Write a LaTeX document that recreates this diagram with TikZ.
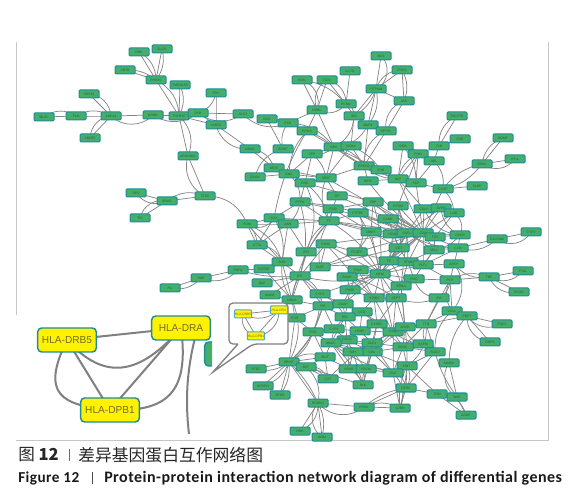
\documentclass[tikz,border=0pt]{standalone}
\usepackage{fontspec}
\setmainfont{Liberation Sans}
\newfontfamily\cjk{Noto Sans CJK SC}
\newfontfamily\capfont[LetterSpace=3]{Carlito}
\definecolor{gfill}{HTML}{45AE6B}
\definecolor{gbord}{HTML}{1F8C9A}
\definecolor{edgec}{HTML}{858585}
\definecolor{ytxt}{HTML}{6E6E20}
\tikzset{
 gene/.style={draw=gbord,fill=gfill,line width=0.75pt,rounded corners=0.8pt,minimum width=15pt,minimum height=6pt,inner sep=0pt,text=black!45!gfill,font=\fontsize{2.5}{3}\selectfont},
 ysmall/.style={gene,fill=yellow,draw=cyan!60!gray,text=ytxt,minimum width=13pt},
 bigy/.style={draw=gbord,fill=yellow,line width=1.1pt,rounded corners=3pt,minimum width=44pt,minimum height=18pt,inner sep=0pt,text=ytxt,font=\fontsize{7.6}{9}\selectfont},
 edgel/.style={draw=edgec,line width=0.55pt},
 bigedge/.style={draw=black!50,line width=1.5pt},
 framel/.style={draw=black!22,line width=0.6pt},
}
\def\genelist{MLKL/44/117,PLN/76/116,ABCA1/111/116,SDS12/89/94,ABCB5/90/138,GRIN1/153/115,TNFRSF/179/116,TMEM158/180/85,DVB/198/113,FRY/216/93,YARS2/216/125,SLC2/243/114,GCK/267/119,PCK/288/123,BDNF/283/149,NBAS/250/149,MEIS/274/168,ARHGDIG/188/156,PPARG/156/80,ZBTB/125/70,DBH/139/52,SLCO/162/49,WLS/381/56,PDCD/402/70,KCTD/350/71,KGN/302/80,RCS/327/80,PITPNM/376/89,JAG/404/101,PCNO/346/104,NOBL/317/110,INO/354/116,MAP4/368/125,DPYSL/386/131,KRGS/307/131,GRK/334/147,NCBA/351/146,GOA/403/146,TXN/439/146,CSB/460/139,TACSTD/457/116,BOMP/503/138,IPHL/515/159,SBNS/482/164,PRO/418/154,ARL/434/161,PRKCD/364/166,EXB/381/170,ZFP/312/154,GNA/289/174,SRSF/326/178,NAT/398/179,MYO/368/181,SCP/416/183,RPS/136/193,BRAS/167/201,TPI/140/218,TCEA/205/196,DAGK/255/177,DSC/305/183,ZIP/337/196,PTPN/300/202,ITGB/333/209,POM/247/224,SOX/274/218,AKR/288/224,TF/329/221,CTTA/257/245,RHAV/326/244,JPH/306/252,SOD/282/262,FASF/320/267,POTEE/264/269,ENFA/238/270,YME/201/278,PIL/170/288,EIF/300/276,BAZ/262/283,MAGE/270/295,NRAS/292/300,CYP1/320/294,PIE/323/306,GSAP/343/304,CASP/443/189,SLBP/477/186,ZBP/373/202,CFOM/398/206,COLP/424/209,AVPR/441/208,LOB/454/213,PTPRC/358/213,CAMK/388/219,DMBT/371/232,HCAK/393/234,CXCL/407/233,CD2/423/233,TLR/435/237,CXCR/460/235,GLUTAM/497/239,CYP2/531/232,CD7/399/248,SELL/434/250,CCR/458/248,FCGFP/357/252,FC/389/261,STAB/408/262,PLTL/423/265,ARCP/454/264,PGA/358/270,SNAP/347/277,MCM/380/274,PIKD/414/279,PCP/450/280,TNF/489/277,PSG/523/271,RCSD/519/292,SEMA/401/286,PKEP/350/290,STMN/374/298,SEPT/396/298,ID3/439/298,STAT/295/318,LCG/362/312,RPL/345/317,CYP3/334/329,PHD/313/332,LRMP/360/331,CYHEC/377/324,COQ/393/332,ARCK/405/327,TTN/426/324,VGLL/452/311,PBPT/467/316,FNCS/502/324,RDFS/490/342,BAFM/423/344,SCGV/435/352,BRAC/403/347,SLC1/372/343,COLQ/347/340,MAAC/331/343,COL/372/352,SMY/353/352,WUT/325/357,BRINT/289/362,BST/306/367,PTRZ/256/369,NPAR/349/369,PRCM/366/369,EMT/407/366,MARN/449/363,DOJ/393/373,CST/328/379,BCRPO/263/386,SPOS/280/395,BLK/363/385,DERK/406/388,TOM/437/394,WAP/457/397,RCRKO/318/403,PRRX/364/407,GJBR/400/408,ARDP/466/415,RDH/300/431,SOM/322/437}
\begin{document}
\begin{tikzpicture}[x=0.75pt,y=-0.75pt]
\useasboundingbox (0,0) rectangle (575,495);
\draw[framel] (16,315) -- (16,42);
\draw[framel] (16,440) -- (548,440) -- (548,42);
\foreach \n/\x/\y in \genelist { \coordinate (p\n) at (\x,\y); }
\foreach \a/\b/\c in {
PLN/MLKL/0,PLN/MLKL/-35,ABCA1/PLN/0,ABCA1/PLN/-30,SDS12/ABCA1/0,SDS12/ABCA1/40,ABCB5/ABCA1/0,ABCB5/ABCA1/40,ABCA1/GRIN1/0,ABCA1/GRIN1/-45,
GRIN1/TNFRSF/0,GRIN1/DVB/-35,TNFRSF/TMEM158/0,TMEM158/TNFRSF/25,PPARG/TNFRSF/0,PPARG/TNFRSF/30,DBH/PPARG/0,DBH/PPARG/30,SLCO/PPARG/0,SLCO/PPARG/25,ZBTB/PPARG/0,ZBTB/PPARG/20,
TNFRSF/DVB/0,TNFRSF/ARHGDIG/0,TNFRSF/ARHGDIG/35,TNFRSF/YARS2/0,DVB/SLC2/0,DVB/SLC2/-35,FRY/DVB/30,FRY/YARS2/0,DVB/YARS2/0,YARS2/NBAS/0,YARS2/NBAS/-40,NBAS/MEIS/0,NBAS/MEIS/35,
SLC2/PCK/-35,GCK/BDNF/0,PCK/BDNF/-25,GCK/PCK/0,ARHGDIG/TCEA/0,ARHGDIG/TCEA/-40,
TCEA/BRAS/0,TCEA/BRAS/-30,BRAS/RPS/0,BRAS/RPS/40,BRAS/TPI/0,BRAS/TPI/-45,TCEA/POM/35,POM/SOX/0,POM/SOX/-50,POM/AKR/0,POM/CTTA/0,POM/CTTA/25,POM/SOD/0,POM/SOD/25,SOX/CTTA/0,SOX/SOD/20,SOX/TF/0,SOX/AKR/0,AKR/TF/0,CTTA/SOD/0,CTTA/SOD/35,
SOD/POTEE/0,SOD/EIF/0,SOD/NRAS/0,POTEE/ENFA/0,ENFA/EIF/-10,ENFA/YME/0,ENFA/YME/35,YME/PIL/0,YME/PIL/30,BAZ/EIF/0,MAGE/EIF/0,MAGE/NRAS/0,NRAS/EIF/0,NRAS/EIF/15,NRAS/SOD/20,POTEE/NRAS/0,EIF/JPH/0,EIF/FASF/0,EIF/CYP1/0,EIF/CYP1/20,EIF/PIE/0,EIF/MCM/-15,EIF/PTPN/-15,EIF/RHAV/0,EIF/TF/15,JPH/TF/20,JPH/RHAV/0,JPH/DSC/-25,FASF/RHAV/0,FASF/MCM/15,FASF/TF/20,
DAGK/GNA/0,GNA/DSC/0,GNA/SRSF/0,DSC/PTPN/0,DSC/TF/20,DSC/SRSF/0,PTPN/TF/0,PTPN/ITGB/0,PTPN/SOX/0,PTPN/AKR/20,ITGB/TF/0,ZIP/TF/0,ZIP/SRSF/0,SRSF/TF/-25,GNA/PTPN/25,GNA/KRGS/20,DAGK/BDNF/30,MEIS/SRSF/0,
PCK/GRK/25,PCK/NOBL/0,KRGS/GRK/0,KRGS/GRK/10,KRGS/NOBL/0,NOBL/KGN/0,NOBL/KGN/-45,NOBL/RCS/0,NOBL/RCS/40,NOBL/PCNO/-40,NOBL/GRK/0,RCS/PCNO/0,RCS/PCNO/40,KCTD/PCNO/0,KGN/PCNO/20,PCNO/INO/0,PCNO/INO/40,PITPNM/INO/0,PITPNM/INO/20,PITPNM/WLS/0,PITPNM/WLS/-60,PITPNM/PDCD/0,PITPNM/PDCD/35,PDCD/JAG/0,PITPNM/JAG/0,PDCD/JAG/25,JAG/DPYSL/0,JAG/DPYSL/-40,PITPNM/MAP4/0,INO/MAP4/0,PITPNM/MAP4/25,INO/GRK/30,INO/NCBA/0,MAP4/PRKCD/0,MAP4/DPYSL/0,DPYSL/PRKCD/0,DPYSL/PRKCD/-35,MAP4/GRK/30,
GRK/NCBA/0,GRK/PRKCD/0,GRK/PRKCD/25,GRK/EXB/0,NCBA/PRKCD/0,NCBA/EXB/15,GRK/ZFP/0,ZFP/GNA/0,ZFP/SRSF/20,ZFP/DSC/0,ZFP/GRK/-25,GRK/SRSF/0,NCBA/SRSF/0,PRKCD/EXB/0,PRKCD/MYO/0,PRKCD/SRSF/0,PRKCD/NAT/-20,EXB/NAT/0,GRK/NAT/-10,EXB/SCP/-25,
GOA/NAT/0,GOA/PRO/30,GOA/SCP/20,PRO/TXN/0,PRO/ARL/0,PRO/NAT/0,PRO/SCP/0,PRO/NAT/-25,ARL/SCP/0,ARL/TXN/0,ARL/CASP/25,TXN/TACSTD/35,TACSTD/TXN/0,CSB/TXN/0,PRO/CFOM/0,
SBNS/BOMP/0,SBNS/BOMP/30,SBNS/IPHL/0,SBNS/IPHL/-45,SBNS/CASP/-20,SBNS/CASP/20,CASP/SLBP/0,CASP/SCP/0,CASP/CD2/0,CASP/LOB/20,SCP/CD2/0,NAT/CD2/0,NAT/COLP/0,MYO/NAT/0,MYO/CD2/-10,SRSF/CD2/0,ZIP/CD2/0,ZBP/CD2/0,ZBP/CXCL/0,ZBP/DMBT/0,PTPRC/HCAK/0,PTPRC/CXCL/0,CAMK/CD2/0,CAMK/CXCL/0,CAMK/CD7/0,
CFOM/CXCL/0,CFOM/CD2/0,CFOM/HCAK/20,CFOM/CD7/15,COLP/CD2/0,COLP/CXCL/0,AVPR/CD2/0,AVPR/CXCL/0,LOB/CD2/0,LOB/CXCR/40,COLP/CXCR/-30,AVPR/CXCR/-30,LOB/TLR/0,CD2/CXCR/0,CD2/TLR/0,CD2/HCAK/0,CD2/SELL/0,CD2/CCR/0,CD2/STAB/0,CD2/PLTL/0,CD2/FC/0,CD2/CD7/0,CD2/MCM/0,CD2/PKEP/0,CXCL/CD7/0,CXCL/FC/0,CXCL/STAB/0,CXCL/MCM/0,CXCL/SELL/0,CXCL/SEMA/0,CXCL/CCR/-15,
CXCR/CCR/0,CXCR/TLR/0,CXCR/SELL/20,CCR/GLUTAM/0,CCR/GLUTAM/-30,GLUTAM/CYP2/0,GLUTAM/CYP2/-50,TLR/SELL/0,TLR/PLTL/20,SELL/STAB/0,SELL/CCR/0,SELL/PLTL/0,CCR/ARCP/0,CCR/PLTL/0,CD7/FC/0,CD7/STAB/0,CD7/MCM/0,CD7/DMBT/0,HCAK/CD7/0,HCAK/FC/0,DMBT/MCM/0,DMBT/FCGFP/0,HCAK/MCM/20,FC/STAB/0,FC/MCM/0,FC/PGA/0,FC/SEMA/15,STAB/PLTL/0,STAB/PIKD/0,STAB/MCM/0,STAB/SEMA/0,PLTL/ARCP/0,PLTL/PCP/0,PLTL/PIKD/0,PLTL/MCM/0,ARCP/PCP/0,ARCP/TNF/-30,PCP/TNF/0,PCP/TNF/25,TNF/PSG/0,TNF/PSG/-40,TNF/RCSD/0,TNF/RCSD/-40,PCP/ID3/30,PCP/VGLL/-30,ARCP/VGLL/40,PIKD/ID3/-35,PIKD/PCP/0,PIKD/SEMA/0,PIKD/MCM/0,
FCGFP/PTPRC/-30,FCGFP/MCM/0,FCGFP/FC/0,FCGFP/RHAV/0,FCGFP/FASF/0,FCGFP/CD2/0,PGA/MCM/0,PGA/SNAP/0,PGA/PKEP/0,PGA/STMN/0,SNAP/MCM/0,SNAP/PKEP/0,SNAP/STMN/0,SNAP/SEPT/10,MCM/SEMA/0,MCM/PKEP/0,MCM/STMN/0,MCM/SEPT/0,MCM/COQ/0,MCM/GSAP/0,SEMA/SEPT/0,SEMA/STMN/0,SEMA/ARCK/0,PKEP/STMN/0,PKEP/GSAP/0,PKEP/RPL/0,STMN/SEPT/0,STMN/LCG/0,STMN/CYHEC/0,STMN/COQ/0,SEPT/COQ/0,SEPT/CYHEC/0,SEPT/ARCK/0,SEPT/ID3/-20,GSAP/RPL/0,GSAP/LCG/0,GSAP/PIE/0,
PIE/STAT/0,PIE/RPL/0,PIE/CYP3/0,PIE/PHD/0,STAT/PHD/0,CYP1/PIE/0,CYP1/GSAP/0,CYP1/MCM/0,CYP1/RPL/20,NRAS/STAT/0,NRAS/PIE/0,NRAS/BRINT/25,STAT/BRINT/0,
RPL/LCG/0,RPL/CYP3/0,RPL/MAAC/0,RPL/COLQ/0,RPL/LRMP/0,LCG/CYHEC/0,LCG/LRMP/0,LCG/COQ/0,CYP3/MAAC/0,CYP3/COLQ/0,CYP3/LRMP/0,CYP3/PHD/0,PHD/MAAC/0,PHD/WUT/0,LRMP/COLQ/0,LRMP/SLC1/0,LRMP/COQ/0,LRMP/CYHEC/0,LRMP/MAAC/0,CYHEC/COQ/0,CYHEC/SLC1/0,CYHEC/COL/0,CYHEC/BRAC/0,COQ/ARCK/0,COQ/SLC1/0,COQ/COL/0,COQ/BRAC/0,COQ/BAFM/-15,COQ/SMY/0,COQ/DOJ/0,COQ/TTN/0,ARCK/BRAC/0,ARCK/BAFM/-35,ARCK/COL/0,ARCK/TTN/0,ARCK/SEMA/0,TTN/SCGV/0,TTN/SCGV/-50,TTN/VGLL/0,TTN/BRAC/0,TTN/PBPT/0,TTN/EMT/30,VGLL/PBPT/0,VGLL/PBPT/-40,VGLL/SCGV/-25,PBPT/FNCS/0,PBPT/FNCS/-40,PBPT/RDFS/0,PBPT/RDFS/-45,PBPT/MARN/-20,PCP/TTN/0,PCP/VGLL/0,ID3/TTN/0,
BAFM/SCGV/0,BAFM/BRAC/0,SCGV/EMT/0,SCGV/BRAC/0,SCGV/DERK/0,BRAC/EMT/0,BRAC/COL/0,BRAC/DOJ/0,MAAC/COLQ/0,MAAC/SMY/0,MAAC/WUT/0,MAAC/COL/0,MAAC/SLC1/0,MAAC/NPAR/0,MAAC/BLK/10,COLQ/SLC1/0,COLQ/COL/0,COLQ/SMY/0,COLQ/NPAR/0,SLC1/COL/0,SLC1/SMY/0,SLC1/PRCM/0,SLC1/BRAC/0,SLC1/DOJ/0,COL/SMY/0,COL/PRCM/0,COL/DOJ/0,COL/EMT/0,COL/BLK/0,SMY/NPAR/0,SMY/PRCM/0,SMY/BLK/0,WUT/BST/0,WUT/BRINT/-30,WUT/CST/0,WUT/NPAR/0,NPAR/PRCM/0,NPAR/BLK/20,PRCM/BLK/-20,PRCM/DOJ/0,PRCM/BLK/0,DOJ/EMT/0,DOJ/DERK/35,DOJ/GJBR/0,DOJ/GJBR/35,DOJ/PRCM/-15,EMT/DERK/0,EMT/DERK/30,EMT/TOM/0,EMT/GJBR/-15,DERK/GJBR/0,DERK/TOM/0,DERK/PRRX/0,DERK/PRRX/-15,GJBR/PRRX/-25,GJBR/PRRX/0,GJBR/ARCK/-10,
MARN/WAP/0,MARN/WAP/-50,SCGV/WAP/-10,TOM/WAP/0,TOM/ARDP/0,TOM/ARDP/40,WAP/ARDP/0,
BRINT/BST/0,BRINT/PTRZ/0,BRINT/PTRZ/25,BRINT/BCRPO/0,BRINT/BCRPO/25,BRINT/SPOS/0,BRINT/SPOS/20,BRINT/CST/20,BRINT/RCRKO/0,BRINT/WUT/0,BST/CST/0,BST/CST/40,BST/RCRKO/30,BST/BLK/0,
RCRKO/PRRX/0,RCRKO/PRRX/-45,RCRKO/RDH/0,RCRKO/RDH/35,RCRKO/SOM/0,RCRKO/SOM/-50,RCRKO/SOM/20,RCRKO/BRINT/-10,PHD/BRINT/20,PIE/BRINT/15,CYP1/BRINT/25,COQ/CST/-10,DOJ/MAAC/10,ITGB/TF/0,TF/MCM/15,TF/DMBT/0,TF/PTPRC/0,TF/CD2/0,TF/HCAK/0,RHAV/MCM/0,RHAV/STMN/0,RHAV/CXCL/0,FASF/CD7/0,TF/NRAS/-15,AKR/SOD/0,AKR/JPH/0,AKR/CTTA/0,ITGB/ZBP/0,ITGB/CD2/0,ITGB/DMBT/0,ZBP/MCM/10,PTPRC/MCM/10,PTPRC/ZBP/0,DSC/ZBP/0,PTPN/CXCL/10,KRGS/SOX/-10
}{
 \draw[edgel] (p\a) to[bend left=\c] (p\b);
}
\foreach \n/\x/\y in \genelist { \node[gene] (\n) at (\x,\y) {\n}; }
% callout with network sample
\fill[white] (212,315) -- (0,315) -- (0,438) -- (212,438) -- cycle;
\draw[draw=black!50,line width=1pt,fill=white,rounded corners=3pt] (238,344) -- (229,344) -- (229,303) -- (288,303) -- (288,344) -- (253,344) [sharp corners] -- (213,372) -- (238,344);
\coordinate (qa) at (243,314);
\coordinate (qb) at (279,310);
\coordinate (qc) at (256,336);
\draw[edgel] (qa) -- (qb) (qa) -- (qc) (qb) -- (qc);
\draw[edgel] (qa) to[bend right=50] (qc);
\draw[edgel] (qa) to[bend right=35] (qb);
\draw[edgel] (qb) to[bend left=45] (qc);
\node[ysmall] (sa) at (qa) {HLA-DRB5};
\node[ysmall] (sb) at (qb) {HLA-DRA};
\node[ysmall] (sc) at (qc) {HLA-DPB1};
% big inset
\coordinate (tail) at (189,434);
\coordinate (mdrb) at (67,340);
\coordinate (mdra) at (181,328);
\coordinate (mdpb) at (110,410);
\draw[bigedge] (mdrb) -- (mdra);
\draw[bigedge] (mdrb) -- (mdpb);
\draw[bigedge] (mdra) -- (mdpb);
\draw[bigedge] (mdrb) .. controls (105,382) and (140,375) .. (mdra);
\draw[bigedge] (mdrb) .. controls (40,395) and (62,405) .. (mdpb);
\draw[bigedge] (mdra) .. controls (190,395) and (165,412) .. (mdpb);
\draw[bigedge] (mdra) ++(14,10) .. controls (187,370) and (185,400) .. (tail);
\node[bigy] (drb) at (mdrb) {HLA-DRB5};
\node[bigy] (dra) at (mdra) {HLA-DRA};
\node[bigy] (dpb) at (mdpb) {HLA-DPB1};
\begin{scope}
\clip (198,335) rectangle (212,370);
\node[draw=gbord,fill=gfill,line width=1.1pt,rounded corners=3pt,minimum width=44pt,minimum height=18pt] (cropped) at (234,354) {};
\end{scope}
% captions
\node[anchor=west,inner sep=0pt,text=black!85,font=\fontsize{12.4}{14}\selectfont] (c1) at (18,455) {\cjk 图 \textbf{12}};
\node[anchor=west,inner sep=0pt,text=black!85,font=\fontsize{12.6}{14}\selectfont] (c2) at (78,455) {\cjk 差异基因蛋白互作网络图};
\draw[gbord,line width=0.5pt] (69,449) -- (69,461);
\node[anchor=west,inner sep=0pt,text=black!90,font=\fontsize{11.4}{13}\selectfont\bfseries] (c3) at (18,478) {\capfont Figure 12};
\draw[black!70,line width=0.5pt] (92,472) -- (92,484);
\node[anchor=west,inner sep=0pt,text=black!90,font=\fontsize{12}{13}\selectfont\bfseries] (c4) at (104,478) {\capfont Protein-protein interaction network diagram of differential genes};
\end{tikzpicture}
\end{document}
